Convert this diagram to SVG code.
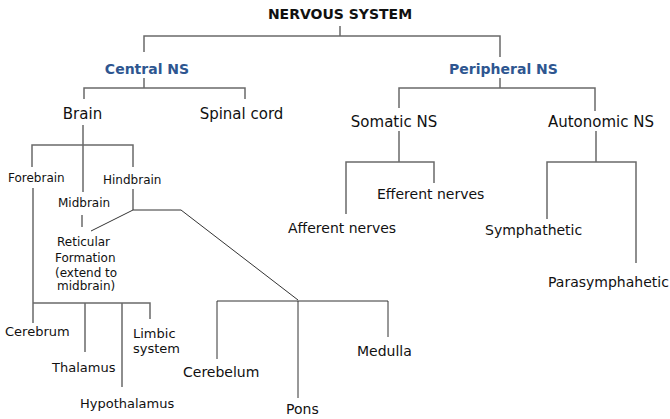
<svg xmlns="http://www.w3.org/2000/svg" width="670" height="419" viewBox="0 0 670 419">
<style>
text{font-family:"DejaVu Sans",Verdana,sans-serif;fill:#111}
.t{font-weight:bold;font-size:14px}
.b{font-weight:bold;font-size:14px;fill:#2E5690}
.l1{font-size:15px}
.l2{font-size:14px}
.l3{font-size:12px}
.l4{font-size:13px}
.c{fill:none;stroke:#6a6a6a;stroke-width:1.5}
.d{fill:none;stroke:#333;stroke-width:1}
</style>
<rect width="670" height="419" fill="#fff"/>
<g id="connectors">
<path class="c" d="M340 26V36M144 52V36H500V57"/>
<path class="c" d="M144 78V88M84 99V88H245V99"/>
<path class="c" d="M500 78V88M399 108V88H595V111"/>
<path class="c" d="M83 125V192M32 167V145H133V167"/>
<path class="c" d="M399 131V162M346 214V162H434V183"/>
<path class="c" d="M596 131V162M547 219V162H636V263"/>
<path class="c" d="M133 189V210"/>
<path class="d" d="M133 210H181L298 300M133 210L91 231"/>
<path class="c" d="M82 215V227"/>
<path class="c" d="M33 188V323M33 303H150V319M85 303V352M122 303V387"/>
<path class="d" d="M217 359V301H388V337M298 301V398"/>
</g>
<g id="nervous-system"><text class="t" x="340" y="19" text-anchor="middle">NERVOUS SYSTEM</text></g>
<g id="central-ns"><text class="b" x="147" y="74" text-anchor="middle">Central NS</text></g>
<g id="peripheral-ns"><text class="b" x="503.5" y="74" text-anchor="middle">Peripheral NS</text></g>
<g id="brain"><text class="l1" x="82.5" y="119" text-anchor="middle">Brain</text></g>
<g id="spinal-cord"><text class="l1" x="241.5" y="119" text-anchor="middle">Spinal cord</text></g>
<g id="somatic-ns"><text class="l1" x="394" y="127" text-anchor="middle">Somatic NS</text></g>
<g id="autonomic-ns"><text class="l1" x="601" y="127" text-anchor="middle">Autonomic NS</text></g>
<g id="forebrain"><text class="l3" x="8" y="182">Forebrain</text></g>
<g id="hindbrain"><text class="l3" x="103" y="184">Hindbrain</text></g>
<g id="midbrain"><text class="l3" x="58" y="207">Midbrain</text></g>
<g id="reticular-formation"><text class="l3"><tspan x="57" y="246">Reticular</tspan><tspan x="55" y="262">Formation</tspan><tspan x="55" y="277">(extend to</tspan><tspan x="57" y="290">midbrain)</tspan></text></g>
<g id="cerebrum"><text class="l4" x="5" y="336">Cerebrum</text></g>
<g id="thalamus"><text class="l4" x="52" y="372">Thalamus</text></g>
<g id="hypothalamus"><text class="l4" x="80" y="408">Hypothalamus</text></g>
<g id="limbic-system"><text class="l4"><tspan x="133" y="338">Limbic</tspan><tspan x="133" y="353">system</tspan></text></g>
<g id="cerebelum"><text class="l2" x="183" y="377">Cerebelum</text></g>
<g id="pons"><text class="l2" x="286" y="414">Pons</text></g>
<g id="medulla"><text class="l2" x="357" y="356">Medulla</text></g>
<g id="efferent-nerves"><text class="l2" x="377" y="199">Efferent nerves</text></g>
<g id="afferent-nerves"><text class="l2" x="288" y="233">Afferent nerves</text></g>
<g id="symphathetic"><text class="l2" x="485" y="235">Symphathetic</text></g>
<g id="parasymphahetic"><text class="l2" x="548" y="287">Parasymphahetic</text></g>
</svg>
